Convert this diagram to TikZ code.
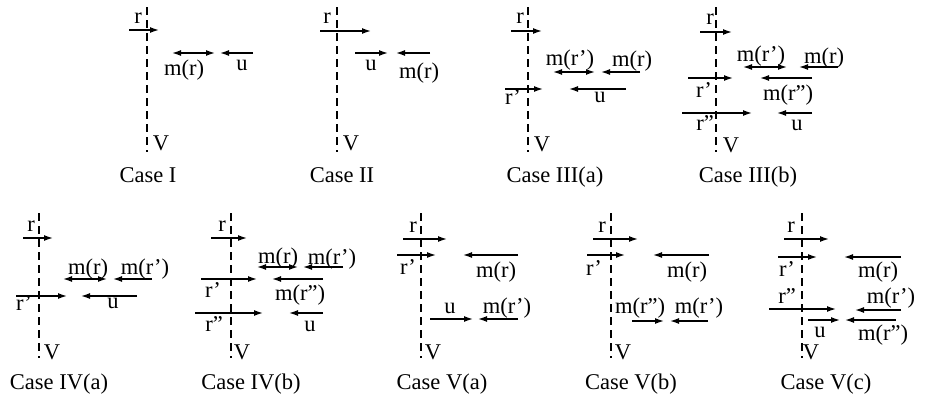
\documentclass[tikz,border=0pt]{standalone}
\usepackage{fontspec}
\setmainfont{Liberation Serif}
\usetikzlibrary{arrows.meta}
\tikzset{
  vline/.style={line width=1.4pt, dash pattern=on 8pt off 5pt},
  ar/.style={line width=1.4pt, -{Latex[length=9pt,width=6pt]}},
  dar/.style={line width=1.4pt, {Latex[length=9pt,width=6pt]}-{Latex[length=9pt,width=6pt]}},
  lab/.style={anchor=base, inner sep=0pt, font=\fontsize{22.5}{26}\selectfont},
}
\newcommand\harr[5]{%
  \coordinate (#1a) at (#2,#4);
  \coordinate (#1b) at (#3,#4);
  \draw[#5] (#1a) -- (#1b);}
\newcommand\vdashline[4]{%
  \coordinate (#1a) at (#2,#3);
  \coordinate (#1b) at (#2,#4);
  \draw[vline] (#1a) -- (#1b);}
\begin{document}
\begin{tikzpicture}[x=1pt,y=-1pt]
\useasboundingbox (0,0) rectangle (936,397);
% ---------- Case I
\vdashline{vI}{147}{7}{152}
\harr{rI}{129}{159}{30}{ar}
\harr{mI}{172}{215}{53}{dar}
\harr{uI}{253}{220}{53}{ar}
\node[lab] (lrI) at (138,23) {r};
\node[lab] (lmI) at (184,75) {m(r)};
\node[lab] (luI) at (242,70) {u};
\node[lab] (lvI) at (161,150) {V};
\node[lab] (cI) at (148,182) {Case I};
% ---------- Case II
\vdashline{vII}{337}{7}{152}
\harr{rII}{320}{371}{31}{ar}
\harr{uII}{355}{388}{53}{ar}
\harr{mII}{430}{396}{53}{ar}
\node[lab] (lrII) at (327,23) {r};
\node[lab] (luII) at (371,70) {u};
\node[lab] (lmII) at (419,78) {m(r)};
\node[lab] (lvII) at (351,150) {V};
\node[lab] (cII) at (342,182) {Case II};
% ---------- Case III(a)
\vdashline{vIIIa}{528}{7}{152}
\harr{rIIIa}{511}{542}{31}{ar}
\harr{mpIIIa}{553}{595}{72}{dar}
\harr{mIIIa}{640}{601}{72}{ar}
\harr{rpIIIa}{505}{543}{89}{ar}
\harr{uIIIa}{626}{569}{89}{ar}
\node[lab] (lrIIIa) at (520,23) {r};
\node[lab] (lmpIIIa) at (570,65) {m(r')};
\node[lab] (lmIIIa) at (632,66) {m(r)};
\node[lab] (lrpIIIa) at (513,104) {r'};
\node[lab] (luIIIa) at (600,102) {u};
\node[lab] (lvIIIa) at (542,151) {V};
\node[lab] (cIIIa) at (555,182) {Case III(a)};
% ---------- Case III(b)
\vdashline{vIIIb}{716}{7}{152}
\harr{rIIIb}{700}{732}{32}{ar}
\harr{mpIIIb}{743}{787}{67}{dar}
\harr{mIIIb}{838}{799}{67}{ar}
\harr{rpIIIb}{688}{733}{78}{ar}
\harr{mppIIIb}{812}{760}{78}{ar}
\harr{rppIIIb}{682}{752}{113}{ar}
\harr{uIIIb}{812}{777}{113}{ar}
\node[lab] (lrIIIb) at (710,24) {r};
\node[lab] (lmpIIIb) at (761,61) {m(r')};
\node[lab] (lmIIIb) at (824,63) {m(r)};
\node[lab] (lrpIIIb) at (704,97) {r'};
\node[lab] (lmppIIIb) at (788,100) {m(r")};
\node[lab] (lrppIIIb) at (705,130) {r"};
\node[lab] (luIIIb) at (797,130) {u};
\node[lab] (lvIIIb) at (731,152) {V};
\node[lab] (cIIIb) at (748,182) {Case III(b)};
% ---------- Case IV(a)
\vdashline{vIVa}{39}{213}{358}
\harr{rIVa}{23}{53}{238}{ar}
\harr{mIVa}{63}{107}{279}{dar}
\harr{mpIVa}{152}{113}{279}{ar}
\harr{rpIVa}{16}{67}{296}{ar}
\harr{uIVa}{137}{81}{296}{ar}
\node[lab] (lrIVa) at (31,231) {r};
\node[lab] (lmIVa) at (88,274) {m(r)};
\node[lab] (lmpIVa) at (145,274) {m(r')};
\node[lab] (lrpIVa) at (24,310) {r'};
\node[lab] (luIVa) at (113,308) {u};
\node[lab] (lvIVa) at (52,359) {V};
\node[lab] (cIVa) at (59,389) {Case IV(a)};
% ---------- Case IV(b)
\vdashline{vIVb}{231}{213}{358}
\harr{rIVb}{211}{247}{238}{ar}
\harr{mIVb}{257}{298}{267}{dar}
\harr{mpIVb}{343}{303}{267}{ar}
\harr{rpIVb}{201}{257}{279}{ar}
\harr{mppIVb}{323}{272}{279}{ar}
\harr{rppIVb}{195}{263}{313}{ar}
\harr{uIVb}{323}{289}{313}{ar}
\node[lab] (lrIVb) at (222,231) {r};
\node[lab] (lmIVb) at (278,263) {m(r)};
\node[lab] (lmpIVb) at (332,264) {m(r')};
\node[lab] (lrpIVb) at (213,297) {r'};
\node[lab] (lmppIVb) at (300,300) {m(r")};
\node[lab] (lrppIVb) at (214,331) {r"};
\node[lab] (luIVb) at (310,331) {u};
\node[lab] (lvIVb) at (242,359) {V};
\node[lab] (cIVb) at (251,389) {Case IV(b)};
% ---------- Case V(a)
\vdashline{vVa}{421}{213}{358}
\harr{rVa}{403}{447}{239}{ar}
\harr{rpVa}{397}{436}{255}{ar}
\harr{mVa}{518}{463}{255}{ar}
\harr{uVa}{430}{473}{319}{ar}
\harr{mpVa}{518}{478}{319}{ar}
\node[lab] (lrVa) at (413,232) {r};
\node[lab] (lrpVa) at (408,274) {r'};
\node[lab] (lmVa) at (496,277) {m(r)};
\node[lab] (luVa) at (450,313) {u};
\node[lab] (lmpVa) at (507,313) {m(r')};
\node[lab] (lvVa) at (433,359) {V};
\node[lab] (cVa) at (442,389) {Case V(a)};
% ---------- Case V(b)
\vdashline{vVb}{611}{213}{358}
\harr{rVb}{593}{638}{239}{ar}
\harr{rpVb}{587}{625}{255}{ar}
\harr{mVb}{709}{653}{255}{ar}
\harr{mppVb}{632}{664}{321}{ar}
\harr{mpVb}{708}{670}{321}{ar}
\node[lab] (lrVb) at (602,232) {r};
\node[lab] (lrpVb) at (594,275) {r'};
\node[lab] (lmVb) at (687,277) {m(r)};
\node[lab] (lmppVb) at (640,313) {m(r")};
\node[lab] (lmpVb) at (699,313) {m(r')};
\node[lab] (lvVb) at (623,359) {V};
\node[lab] (cVb) at (631,389) {Case V(b)};
% ---------- Case V(c)
\vdashline{vVc}{802}{213}{358}
\harr{rVc}{784}{829}{239}{ar}
\harr{rpVc}{778}{817}{257}{ar}
\harr{mVc}{901}{844}{257}{ar}
\harr{rppVc}{769}{836}{309}{ar}
\harr{mpVc}{901}{855}{310}{ar}
\harr{uVc}{808}{840}{320}{ar}
\harr{mppVc}{896}{845}{320}{ar}
\node[lab] (lrVc) at (791,232) {r};
\node[lab] (lrpVc) at (787,276) {r'};
\node[lab] (lmVc) at (878,277) {m(r)};
\node[lab] (lrppVc) at (787,303) {r"};
\node[lab] (lmpVc) at (891,303) {m(r')};
\node[lab] (luVc) at (820,337) {u};
\node[lab] (lmppVc) at (883,340) {m(r")};
\node[lab] (lvVc) at (811,359) {V};
\node[lab] (cVc) at (826,389) {Case V(c)};
\end{tikzpicture}
\end{document}
